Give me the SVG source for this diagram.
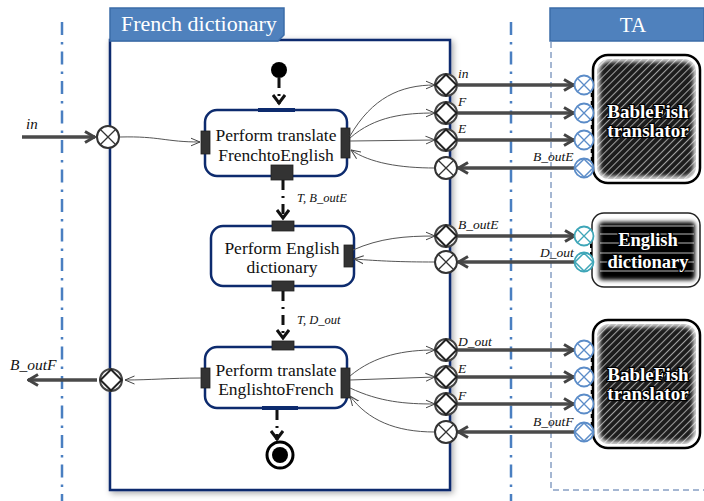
<svg xmlns="http://www.w3.org/2000/svg" width="704" height="501" viewBox="0 0 704 501">
<style>
.act{fill:#fff;stroke:#0d2b6e;stroke-width:2.5}
.pin{fill:#333;stroke:#222;stroke-width:0.8}
.thick{stroke:#4a4a4a;stroke-width:3.5;fill:none}
.thin{stroke:#555;stroke-width:1;fill:none}
.ctrl{stroke:#111;stroke-width:3;fill:none;stroke-dasharray:10 6 2 6}
.dd{stroke:#4a7fc1;stroke-width:2.5;fill:none;stroke-dasharray:13 7 2.5 7}
.tab{fill:#4f81bd;stroke:#3b6ca8;stroke-width:1.5}
</style>
<defs>
<filter id="sh" x="-10%" y="-10%" width="120%" height="120%"><feDropShadow dx="2" dy="2" stdDeviation="3" flood-opacity="0.35"/></filter>
<filter id="bl" x="-10%" y="-10%" width="120%" height="120%"><feGaussianBlur stdDeviation="2"/></filter>
<pattern id="hatch" width="5" height="5" patternUnits="userSpaceOnUse" patternTransform="rotate(45)"><rect width="5" height="5" fill="#1c1c1c"/><line x1="0.5" y1="0" x2="0.5" y2="5" stroke="#a0a0a0" stroke-width="1.1"/></pattern>
<marker id="ah" viewBox="0 0 12 14" refX="11" refY="7" markerWidth="12" markerHeight="14" markerUnits="userSpaceOnUse" orient="auto"><path d="M1,1.5 L10.5,7 L1,12.5" fill="none" stroke="#444" stroke-width="3"/></marker>
<marker id="oh" viewBox="0 0 10 10" refX="9.5" refY="5" markerWidth="10" markerHeight="10" markerUnits="userSpaceOnUse" orient="auto"><path d="M0,1 L9.5,5 L0,9" fill="none" stroke="#444" stroke-width="1"/></marker>
<marker id="ch" viewBox="0 0 12 14" refX="10" refY="7" markerWidth="12" markerHeight="14" markerUnits="userSpaceOnUse" orient="auto"><path d="M1,1 L9,7 L1,13" fill="none" stroke="#111" stroke-width="3"/></marker>
<g id="px"><circle r="11" fill="#fff" stroke="#333" stroke-width="2"/><path d="M-7.8,-7.8 L7.8,7.8 M7.8,-7.8 L-7.8,7.8" stroke="#333" stroke-width="1.3"/></g>
<g id="pd"><circle r="11" fill="#fff" stroke="#444" stroke-width="2"/><path d="M0,-10.5 L10.5,0 L0,10.5 L-10.5,0 Z" fill="none" stroke="#222" stroke-width="2"/></g>
<g id="bx"><circle r="9.5" fill="#fff" stroke="#5b8cc8" stroke-width="1.8"/><path d="M-6.7,-6.7 L6.7,6.7 M6.7,-6.7 L-6.7,6.7" stroke="#5b8cc8" stroke-width="1.3"/></g>
<g id="bd"><circle r="9.5" fill="#fff" stroke="#5b8cc8" stroke-width="1.8"/><path d="M0,-9 L9,0 L0,9 L-9,0 Z" fill="none" stroke="#5b8cc8" stroke-width="1.5"/></g>
<g id="tx"><circle r="9.5" fill="#fff" stroke="#3ea6b8" stroke-width="1.8"/><path d="M-6.7,-6.7 L6.7,6.7 M6.7,-6.7 L-6.7,6.7" stroke="#3ea6b8" stroke-width="1.3"/></g>
<g id="td"><circle r="9.5" fill="#fff" stroke="#3ea6b8" stroke-width="1.8"/><path d="M0,-9 L9,0 L0,9 L-9,0 Z" fill="none" stroke="#3ea6b8" stroke-width="1.5"/></g>
</defs>
<rect width="704" height="501" fill="#fff"/>

<g id="lanes">
<line class="dd" x1="62" y1="22" x2="62" y2="501"/>
<line class="dd" x1="511" y1="22" x2="511" y2="501"/>
<path d="M551,42 L551,490 L704,490" fill="none" stroke="#4a6fa5" stroke-width="1" stroke-dasharray="6 4"/>
</g>

<g id="french-dictionary">
<rect x="110" y="40" width="340" height="450" fill="#fff" stroke="#0d2b6e" stroke-width="2.5" filter="url(#sh)"/>
<polygon class="tab" points="110,8 284,8 284,35 278,41 110,41"/>
<text x="121" y="31" font-family="Liberation Serif" font-size="22" fill="#fff">French dictionary</text>
</g>

<g id="ta">
<rect class="tab" x="550" y="8" width="154" height="33"/>
<text x="633" y="32" text-anchor="middle" font-family="Liberation Serif" font-size="21" fill="#fff">TA</text>
</g>

<g id="initial"><circle cx="279" cy="70" r="8" fill="#000"/></g>
<g id="final"><circle cx="280" cy="455" r="13" fill="#fff" stroke="#000" stroke-width="3"/><circle cx="280" cy="455" r="8" fill="#000"/></g>

<g id="act1">
<rect class="act" x="205" y="110" width="142" height="66" rx="12"/>
<line x1="258" y1="110" x2="295" y2="110" stroke="#0d2b6e" stroke-width="4"/>
<rect class="pin" x="201" y="131" width="9" height="23"/>
<rect class="pin" x="341" y="128" width="9" height="30"/>
<rect class="pin" x="271" y="165" width="22" height="15"/>
<text x="276" y="141" text-anchor="middle" font-family="Liberation Serif" font-size="17.5" fill="#111">Perform translate</text>
<text x="276" y="161" text-anchor="middle" font-family="Liberation Serif" font-size="17.5" fill="#111">FrenchtoEnglish</text>
</g>
<g id="act2">
<rect class="act" x="211" y="226" width="143" height="60" rx="12"/>
<rect class="pin" x="272" y="221" width="22" height="10"/>
<rect class="pin" x="272" y="281" width="22" height="10"/>
<rect class="pin" x="344" y="245" width="9" height="22"/>
<text x="282" y="254" text-anchor="middle" font-family="Liberation Serif" font-size="17.5" fill="#111">Perform English</text>
<text x="282" y="273" text-anchor="middle" font-family="Liberation Serif" font-size="17.5" fill="#111">dictionary</text>
</g>
<g id="act3">
<rect class="act" x="205" y="347" width="142" height="61" rx="12"/>
<line x1="262" y1="408" x2="298" y2="408" stroke="#0d2b6e" stroke-width="4"/>
<rect class="pin" x="272" y="341" width="22" height="9"/>
<rect class="pin" x="201" y="368" width="9" height="20"/>
<rect class="pin" x="341" y="368" width="9" height="30"/>
<text x="276" y="376" text-anchor="middle" font-family="Liberation Serif" font-size="17.5" fill="#111">Perform translate</text>
<text x="276" y="395" text-anchor="middle" font-family="Liberation Serif" font-size="17.5" fill="#111">EnglishtoFrench</text>
</g>

<g id="bablefish1">
<rect x="593" y="55" width="107" height="128" rx="15" fill="#fff"/>
<rect x="597" y="59" width="99" height="120" rx="12" fill="url(#hatch)"/>
<rect x="597" y="59" width="99" height="120" rx="12" fill="none" stroke="#fff" stroke-width="5" filter="url(#bl)"/>
<rect x="593" y="55" width="107" height="128" rx="15" fill="none" stroke="#000" stroke-width="2.5"/>
<text x="648" y="118" text-anchor="middle" font-family="Liberation Serif" font-size="19" font-weight="bold" fill="#fff" stroke="#000" stroke-width="2.5" paint-order="stroke">BableFish</text>
<text x="648" y="137" text-anchor="middle" font-family="Liberation Serif" font-size="19" font-weight="bold" fill="#fff" stroke="#000" stroke-width="2.5" paint-order="stroke">translator</text>
</g>
<g id="english-dictionary">
<rect x="592" y="213" width="108" height="74" rx="12" fill="#fff" stroke="#222" stroke-width="1.5"/>
<rect x="599" y="222" width="96" height="58" rx="4" fill="#000" filter="url(#bl)"/>
<path d="M600,226 H694 M600,234 H694 M600,243 H694 M600,253 H694 M600,262 H694 M600,271 H694" stroke="#fff" stroke-width="0.8" opacity="0.9"/>
<text x="648" y="246" text-anchor="middle" font-family="Liberation Serif" font-size="18.5" font-weight="bold" fill="#fff" stroke="#000" stroke-width="2.5" paint-order="stroke">English</text>
<text x="648" y="268" text-anchor="middle" font-family="Liberation Serif" font-size="18.5" font-weight="bold" fill="#fff" stroke="#000" stroke-width="2.5" paint-order="stroke">dictionary</text>
</g>
<g id="bablefish2">
<rect x="593" y="320" width="107" height="128" rx="15" fill="#fff"/>
<rect x="597" y="324" width="99" height="120" rx="12" fill="url(#hatch)"/>
<rect x="597" y="324" width="99" height="120" rx="12" fill="none" stroke="#fff" stroke-width="5" filter="url(#bl)"/>
<rect x="593" y="320" width="107" height="128" rx="15" fill="none" stroke="#000" stroke-width="2.5"/>
<text x="648" y="381" text-anchor="middle" font-family="Liberation Serif" font-size="19" font-weight="bold" fill="#fff" stroke="#000" stroke-width="2.5" paint-order="stroke">BableFish</text>
<text x="648" y="400" text-anchor="middle" font-family="Liberation Serif" font-size="19" font-weight="bold" fill="#fff" stroke="#000" stroke-width="2.5" paint-order="stroke">translator</text>
</g>

<g id="connectors">
<line class="ctrl" x1="279" y1="78" x2="279" y2="104" marker-end="url(#ch)"/>
<line class="ctrl" x1="283" y1="180" x2="283" y2="219" marker-end="url(#ch)"/>
<line class="ctrl" x1="283" y1="291" x2="283" y2="339" marker-end="url(#ch)"/>
<line class="ctrl" x1="277" y1="410" x2="277" y2="440" marker-end="url(#ch)"/>

<line class="thick" x1="22" y1="137" x2="95" y2="137" marker-end="url(#ah)"/>
<path class="thin" d="M120,137 C160,136 165,142 200,142" marker-end="url(#oh)"/>
<path class="thin" d="M201,378 C170,378 150,380 125,380" marker-end="url(#oh)"/>
<line class="thick" x1="97" y1="380" x2="28" y2="380" marker-end="url(#ah)"/>

<path class="thin" d="M350,136 C372,98 400,85 435,85" marker-end="url(#oh)"/>
<path class="thin" d="M350,138 C375,116 405,113 435,113" marker-end="url(#oh)"/>
<path class="thin" d="M350,141 L435,140" marker-end="url(#oh)"/>
<path class="thin" d="M435,168 C400,168 370,163 351,150" marker-end="url(#oh)"/>
<path class="thin" d="M353,250 C380,238 405,236 435,236" marker-end="url(#oh)"/>
<path class="thin" d="M435,262 C400,262 380,261 354,259" marker-end="url(#oh)"/>
<path class="thin" d="M350,376 C375,355 405,350 435,350" marker-end="url(#oh)"/>
<path class="thin" d="M350,380 L435,377" marker-end="url(#oh)"/>
<path class="thin" d="M350,388 C380,402 405,404 435,404" marker-end="url(#oh)"/>
<path class="thin" d="M435,432 C395,432 368,420 350,396" marker-end="url(#oh)"/>

<line class="thick" x1="458" y1="85" x2="574" y2="85" marker-end="url(#ah)"/>
<line class="thick" x1="458" y1="113" x2="574" y2="113" marker-end="url(#ah)"/>
<line class="thick" x1="458" y1="140" x2="574" y2="140" marker-end="url(#ah)"/>
<line class="thick" x1="575" y1="168" x2="458" y2="168" marker-end="url(#ah)"/>
<line class="thick" x1="458" y1="236" x2="575" y2="236" marker-end="url(#ah)"/>
<line class="thick" x1="575" y1="262" x2="458" y2="262" marker-end="url(#ah)"/>
<line class="thick" x1="458" y1="350" x2="574" y2="350" marker-end="url(#ah)"/>
<line class="thick" x1="458" y1="377" x2="574" y2="377" marker-end="url(#ah)"/>
<line class="thick" x1="458" y1="404" x2="574" y2="404" marker-end="url(#ah)"/>
<line class="thick" x1="575" y1="432" x2="458" y2="432" marker-end="url(#ah)"/>

<line x1="592" y1="85" x2="592" y2="168" stroke="#000" stroke-width="2.5" stroke-dasharray="4 4"/>
<line x1="592" y1="350" x2="592" y2="432" stroke="#000" stroke-width="2.5" stroke-dasharray="4 4"/>
<line x1="591" y1="236" x2="591" y2="262" stroke="#000" stroke-width="2" stroke-dasharray="4 4"/>
</g>

<g id="ports">
<use href="#px" x="108" y="137"/>
<use href="#pd" x="111" y="380"/>
<use href="#pd" x="446" y="85"/>
<use href="#pd" x="446" y="113"/>
<use href="#pd" x="446" y="140"/>
<use href="#px" x="446" y="168"/>
<use href="#pd" x="446" y="236"/>
<use href="#px" x="446" y="262"/>
<use href="#pd" x="446" y="350"/>
<use href="#pd" x="446" y="377"/>
<use href="#pd" x="446" y="404"/>
<use href="#px" x="446" y="432"/>
<use href="#bx" x="584" y="85"/>
<use href="#bx" x="584" y="113"/>
<use href="#bx" x="584" y="140"/>
<use href="#bd" x="584" y="168"/>
<use href="#tx" x="584" y="236"/>
<use href="#td" x="584" y="262"/>
<use href="#bx" x="584" y="350"/>
<use href="#bx" x="584" y="377"/>
<use href="#bx" x="584" y="404"/>
<use href="#bd" x="584" y="432"/>
</g>

<g id="labels" fill="#111">
<text x="26" y="129" font-family="Liberation Serif" font-style="italic" font-size="15">in</text>
<text x="10" y="370" font-family="Liberation Serif" font-style="italic" font-size="15.5">B_outF</text>
<text x="297" y="202" font-family="Liberation Serif" font-style="italic" font-size="12.5">T, B_outE</text>
<text x="297" y="324" font-family="Liberation Serif" font-style="italic" font-size="12.5">T, D_out</text>
<text x="458" y="78" font-family="Liberation Serif" font-style="italic" font-size="13.5">in</text>
<text x="458" y="106" font-family="Liberation Serif" font-style="italic" font-size="13.5">F</text>
<text x="458" y="133" font-family="Liberation Serif" font-style="italic" font-size="13.5">E</text>
<text x="533" y="161" font-family="Liberation Serif" font-style="italic" font-size="13.5">B_outE</text>
<text x="458" y="229" font-family="Liberation Serif" font-style="italic" font-size="13.5">B_outE</text>
<text x="540" y="257" font-family="Liberation Serif" font-style="italic" font-size="13.5">D_out</text>
<text x="458" y="346" font-family="Liberation Serif" font-style="italic" font-size="13.5">D_out</text>
<text x="458" y="373" font-family="Liberation Serif" font-style="italic" font-size="13.5">E</text>
<text x="458" y="400" font-family="Liberation Serif" font-style="italic" font-size="13.5">F</text>
<text x="533" y="426" font-family="Liberation Serif" font-style="italic" font-size="13.5">B_outF</text>
</g>
</svg>
